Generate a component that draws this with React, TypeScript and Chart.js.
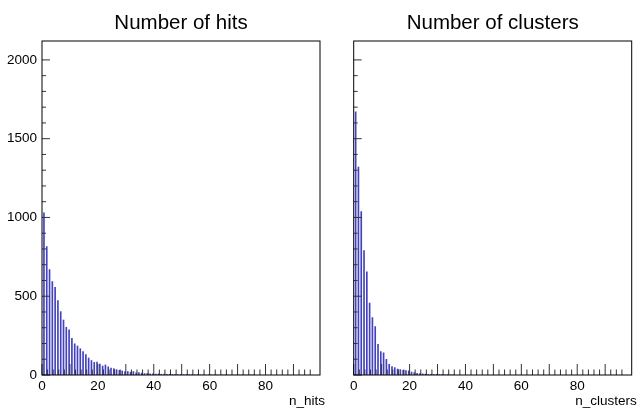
import React, { useEffect, useRef } from 'react';
import { Chart, registerables } from 'chart.js';

Chart.register(...registerables);

// ---- data (bin contents, bin k = value k) ----
const HIT_COUNTS = [
  1029, 815, 669, 593, 556, 472, 402, 349, 303, 286,
  232, 198, 184, 167, 148, 129, 108, 92, 80, 82,
  70, 57, 64, 52, 44, 40, 34, 30, 26, 22,
  22, 18, 22, 14, 16, 12, 9, 10, 7, 8,
  6, 7, 5, 6, 4, 5, 4, 3, 3, 4,
  2, 3, 2, 2, 1, 2, 1, 1, 0, 1,
  1, 0, 1, 0, 0, 1, 0, 0, 0, 0,
  0, 1, 0, 0, 0, 1,
];
const CLUSTER_COUNTS = [
  1670, 1320, 1037, 789, 655, 457, 365, 307, 195, 148,
  140, 100, 68, 53, 47, 38, 34, 30, 28, 26,
  18, 16, 10, 9, 7, 6, 5, 4, 3, 5,
  2, 2, 1, 2, 1, 1,
];
const X_TICK_LABELS = [0, 20, 40, 60, 80];
const Y_TICK_LABELS = [0, 500, 1000, 1500, 2000];
const PANEL_TITLES = ['Number of hits', 'Number of clusters'];
const AXIS_TITLES = ['n_hits', 'n_clusters'];
const X_MIN = 0;
const X_MAX = 99.5;
const Y_MIN = 0;
const Y_MAX = 2120;

const FONT = '"Liberation Sans", Arial, Helvetica, sans-serif';
const BAR_POS = 0.7; // where the thin bar sits inside each unit bin
const BAR_COLOR = 'rgb(66,66,190)';

const rootStylePlugin = {
  id: 'rootStyle',
  afterDatasetsDraw(chart: any, _args: any, opts: any) {
    const { ctx, chartArea } = chart;
    const { left, right, top, bottom } = chartArea;
    const xs = chart.scales.x;
    const ys = chart.scales.y;
    ctx.save();
    ctx.strokeStyle = '#333';
    ctx.lineWidth = 1;
    // inward tick marks on bottom axis
    ctx.beginPath();
    for (const t of xs.ticks) {
      const v = t.value;
      if (Math.abs(v % 2) > 1e-9) continue;
      const px = xs.getPixelForValue(v);
      const len = Math.abs(v % 10) < 1e-9 ? 11 : 5.5;
      ctx.moveTo(px, bottom);
      ctx.lineTo(px, bottom - len);
    }
    // inward tick marks on left axis
    for (const t of ys.ticks) {
      const v = t.value;
      if (Math.abs(v % 100) > 1e-9) continue;
      const py = ys.getPixelForValue(v);
      const len = Math.abs(v % 500) < 1e-9 ? 8 : 4;
      ctx.moveTo(left, py);
      ctx.lineTo(left + len, py);
    }
    ctx.stroke();
    // frame
    ctx.strokeStyle = '#000';
    ctx.strokeRect(left, top, right - left, bottom - top);
    // panel title
    ctx.fillStyle = '#000';
    ctx.font = `20.5px ${FONT}`;
    ctx.textAlign = 'center';
    ctx.textBaseline = 'alphabetic';
    ctx.fillText(opts.title, (left + right) / 2, 29);
    // axis title
    ctx.font = `13.5px ${FONT}`;
    ctx.textAlign = 'right';
    ctx.fillText(opts.axisTitle, right + 5, 405);
    ctx.restore();
  },
};

type PanelProps = {
  counts: number[];
  title: string;
  axisTitle: string;
  showYLabels: boolean;
  canvasLeft: number;
  canvasWidth: number;
  yAxisWidth: number;
  padRight: number;
};

function Panel(p: PanelProps) {
  const ref = useRef<HTMLCanvasElement | null>(null);
  useEffect(() => {
    if (!ref.current) return;
    const chart = new Chart(ref.current, {
      type: 'bar',
      data: {
        datasets: [
          {
            data: p.counts.map((c, k) => ({ x: k + BAR_POS, y: c })),
            backgroundColor: BAR_COLOR,
            borderWidth: 0,
            barThickness: 1,
          } as any,
        ],
      },
      options: {
        animation: false,
        responsive: false,
        devicePixelRatio: 1,
        layout: { padding: { top: 41, right: p.padRight, left: 0, bottom: 0 } },
        plugins: {
          legend: { display: false },
          title: { display: false },
          tooltip: { enabled: false },
          rootStyle: { title: p.title, axisTitle: p.axisTitle },
        } as any,
        scales: {
          x: {
            type: 'linear',
            min: X_MIN,
            max: X_MAX,
            offset: false,
            grid: { display: false, drawTicks: false },
            border: { display: false },
            ticks: {
              stepSize: 2,
              autoSkip: false,
              maxRotation: 0,
              padding: 3,
              color: '#000',
              font: { family: FONT, size: 13.5 },
              callback: (v: any) => (X_TICK_LABELS.includes(Number(v)) ? String(v) : ''),
            },
            afterFit: (s: any) => {
              s.height = 33;
            },
          },
          y: {
            type: 'linear',
            min: Y_MIN,
            max: Y_MAX,
            grid: { display: false, drawTicks: false },
            border: { display: false },
            ticks: {
              display: p.showYLabels,
              stepSize: 100,
              autoSkip: false,
              padding: 5,
              color: '#000',
              font: { family: FONT, size: 13.5 },
              callback: (v: any) => (Y_TICK_LABELS.includes(Number(v)) ? String(v) : ''),
            },
            afterFit: (s: any) => {
              s.width = p.yAxisWidth;
            },
          },
        },
      } as any,
      plugins: [rootStylePlugin as any],
    });
    return () => chart.destroy();
  }, []);
  return (
    <canvas
      ref={ref}
      width={p.canvasWidth}
      height={408}
      style={{ position: 'absolute', left: p.canvasLeft, top: 0, width: p.canvasWidth, height: 408 }}
    />
  );
}

export default function App() {
  return (
    <div style={{ position: 'fixed', left: 0, top: 0, width: 640, height: 408, background: '#fff', overflow: 'hidden' }}>
      <Panel
        counts={HIT_COUNTS}
        title={PANEL_TITLES[0]}
        axisTitle={AXIS_TITLES[0]}
        showYLabels={true}
        canvasLeft={0}
        canvasWidth={336}
        yAxisWidth={42}
        padRight={16}
      />
      <Panel
        counts={CLUSTER_COUNTS}
        title={PANEL_TITLES[1]}
        axisTitle={AXIS_TITLES[1]}
        showYLabels={false}
        canvasLeft={336}
        canvasWidth={304}
        yAxisWidth={17.7}
        padRight={8.3}
      />
    </div>
  );
}
